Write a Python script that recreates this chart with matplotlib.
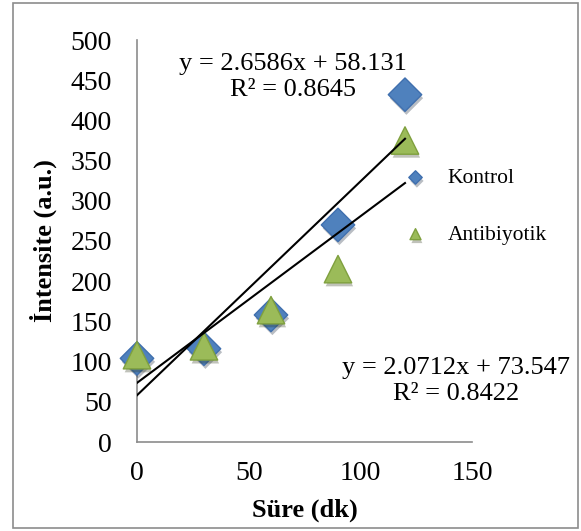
import matplotlib
matplotlib.use("Agg")
import matplotlib.pyplot as plt
from matplotlib.patches import Rectangle
import matplotlib.patheffects as pe
import numpy as np

plt.rcParams['font.family'] = ['Liberation Serif', 'DejaVu Serif']

time_min = [0, 30, 60, 90, 120]
kontrol = [104, 116, 158, 270, 432]
antibiyotik = [108, 119, 164, 215, 375]
fit_kontrol = (2.6586, 58.131)
fit_antibiyotik = (2.0712, 73.547)
eq_kontrol = "y = 2.6586x + 58.131\nR² = 0.8645"
eq_antibiyotik = "y = 2.0712x + 73.547\nR² = 0.8422"
xticks = [0, 50, 100, 150]
yticks = [0, 50, 100, 150, 200, 250, 300, 350, 400, 450, 500]

fig = plt.figure(figsize=(5.81, 5.31), dpi=100)
ax = fig.add_axes([137/581, 89/531, 335/581, 402/531])

blue_face, blue_edge = '#4F81BD', '#3F6FAE'
green_face, green_edge = '#9BBB59', '#7FA03E'
shadow = [pe.SimplePatchShadow(offset=(1.0, -2.5), alpha=0.3), pe.Normal()]

ax.scatter(time_min, kontrol, marker='D', s=290, facecolor=blue_face,
           edgecolor=blue_edge, linewidth=1, zorder=3, label='Kontrol',
           path_effects=shadow, clip_on=False)
ax.scatter(time_min, antibiyotik, marker='^', s=390, facecolor=green_face,
           edgecolor=green_edge, linewidth=1, zorder=4, label='Antibiyotik',
           path_effects=shadow, clip_on=False)

xs = np.array([time_min[0], time_min[-1]])
ax.plot(xs, fit_kontrol[0]*xs + fit_kontrol[1], color='black', lw=1.5, zorder=5)
ax.plot(xs, fit_antibiyotik[0]*xs + fit_antibiyotik[1], color='black', lw=1.5, zorder=5)

ax.set_xlim(0, 150)
ax.set_ylim(0, 500)
ax.set_xticks(xticks)
ax.set_yticks(yticks)
ax.tick_params(length=0, labelsize=20)
ax.tick_params(axis='y', pad=18)
ax.tick_params(axis='x', pad=14)
for s in ['top', 'right']:
    ax.spines[s].set_visible(False)
for s in ['left', 'bottom']:
    ax.spines[s].set_color('#8C8C8C')
    ax.spines[s].set_linewidth(1.2)

ax.set_xlabel('Süre (dk)', fontsize=19, fontweight='bold', labelpad=9)
ax.set_ylabel('İntensite (a.u.)', fontsize=19, fontweight='bold', labelpad=10)

ax.text(0.466, 0.908, eq_kontrol, transform=ax.transAxes, fontsize=19,
        ha='center', va='center', multialignment='center', linespacing=1.2)
ax.text(0.952, 0.152, eq_antibiyotik, transform=ax.transAxes, fontsize=19,
        ha='center', va='center', multialignment='center', linespacing=1.2)

leg = ax.legend(loc='center left', bbox_to_anchor=(0.735, 0.586), frameon=False,
                fontsize=15.5, markerscale=0.4, handletextpad=0.9, labelspacing=1.7,
                handlelength=1.2)

fig.patches.append(Rectangle((13/581, 3/531), 565/581, 525/531, transform=fig.transFigure,
                             fill=False, edgecolor='#8C8C8C', linewidth=1.2))

fig.savefig('out.png', dpi=100)
